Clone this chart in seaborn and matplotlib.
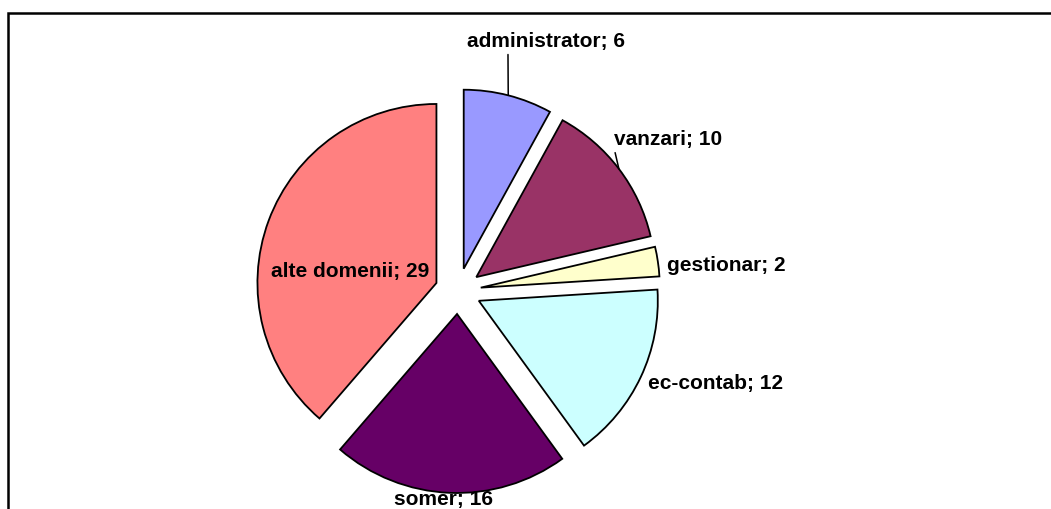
import numpy as np
import matplotlib
matplotlib.use("Agg")
import matplotlib.pyplot as plt
import matplotlib.patches as mpatches
import seaborn as sns

# Data
categories = ["administrator", "vanzari", "gestionar", "ec-contab", "somer", "alte domenii"]
values = [6, 10, 2, 12, 16, 29]
colors = ["#9999FF", "#993366", "#FFFFCC", "#CCFFFF", "#660066", "#FF8080"]

# label placement relative to each exploded wedge centre: (angle deg, distance px)
label_offsets = [(70.1, 241.4), (35.6, 235.7), (5.2, 247), (-19.3, 251), (-94.3, 186.5), (172.7, 87)]
leader = [True, True, False, False, False, False]
leader_relpos = [(0.26, 0.0), (0.0, 0.1), None, None, None, None]

sns.set_theme(style="white")
plt.rcParams["font.family"] = ["Liberation Sans", "DejaVu Sans"]

W, H = 1051, 509
fig = plt.figure(figsize=(W / 100, H / 100), dpi=100)
ax = fig.add_axes([0, 0, 1, 1])

center = (458, 218)
radius = 179
expl = 23

wedges, _ = ax.pie(values, colors=colors, startangle=90, counterclock=False,
                   radius=radius, center=center, explode=[expl] * len(values),
                   wedgeprops=dict(edgecolor="black", linewidth=1.3), frame=True)
ax.set_xlim(0, W)
ax.set_ylim(0, H)
ax.set_aspect("equal")
ax.axis("off")

for w, name, v, (ang, dist), has_line, rp in zip(wedges, categories, values,
                                                  label_offsets, leader, leader_relpos):
    cx, cy = w.center
    ta = np.deg2rad(ang)
    tx, ty = cx + dist * np.cos(ta), cy + dist * np.sin(ta)
    mid = np.deg2rad((w.theta1 + w.theta2) / 2)
    px, py = cx + radius * np.cos(mid), cy + radius * np.sin(mid)
    txt = f"{name}; {v}"
    if has_line:
        ax.annotate(txt, xy=(px, py), xytext=(tx, ty), ha="center", va="center",
                    fontsize=15, fontweight="bold", color="black",
                    arrowprops=dict(arrowstyle="-", color="black", lw=1.1,
                                    shrinkA=0, shrinkB=0, relpos=rp))
    else:
        ax.text(tx, ty, txt, ha="center", va="center", fontsize=15,
                fontweight="bold", color="black")

# chart area frame (cut off on right and bottom)
frame = mpatches.Rectangle((8 / W, -0.05), 1.1, 1.05 - 12.5 / H, transform=fig.transFigure,
                           fill=False, edgecolor="black", linewidth=1.8)
fig.add_artist(frame)

fig.savefig("out.png", dpi=100, facecolor="white")
